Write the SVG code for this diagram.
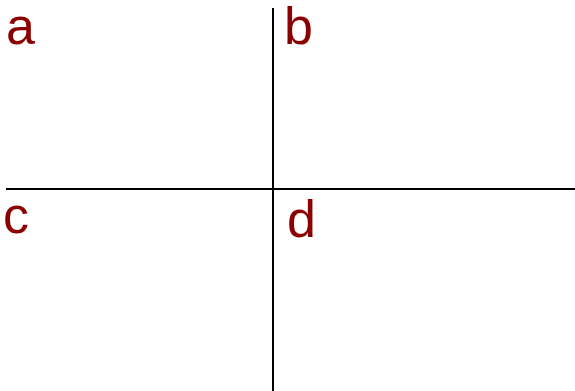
<svg xmlns="http://www.w3.org/2000/svg" width="575" height="391" viewBox="0 0 575 391">
<style>
.lbl{font-family:"Liberation Sans",Arial,sans-serif;font-size:52px;fill:#8b0000}
.ln{stroke:#000;stroke-width:2;fill:none}
</style>
<rect width="575" height="391" fill="#fff"/>
<g id="connectors">
<line class="ln" x1="273" y1="8" x2="273" y2="391"/>
<line class="ln" x1="6" y1="189" x2="575" y2="189"/>
</g>
<g id="a"><text class="lbl" x="6" y="44">a</text></g>
<g id="b"><text class="lbl" x="284" y="44">b</text></g>
<g id="c"><text class="lbl" x="3" y="233">c</text></g>
<g id="d"><text class="lbl" x="287" y="237">d</text></g>
</svg>
